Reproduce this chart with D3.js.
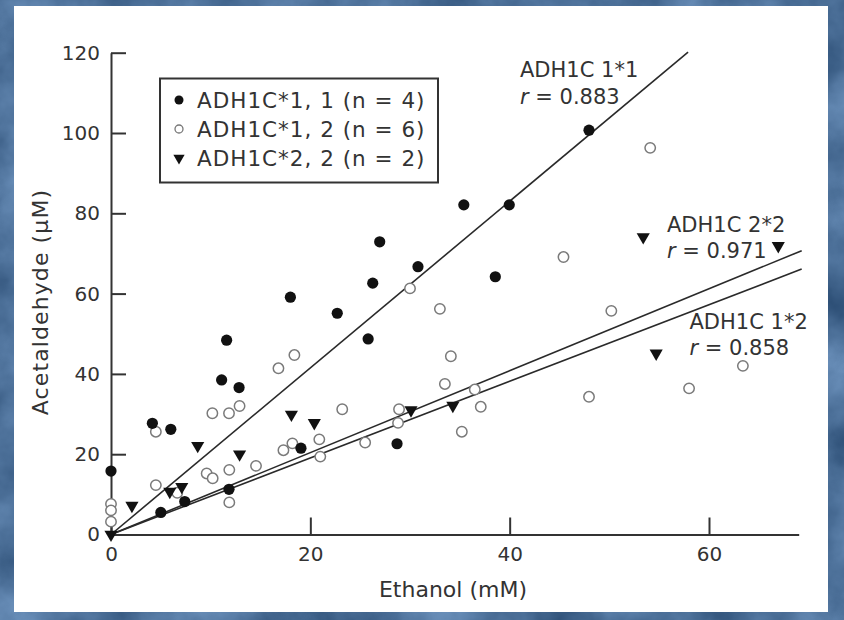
<!DOCTYPE html>
<html>
<head>
<meta charset="utf-8">
<script src="https://cdn.jsdelivr.net/npm/d3@7"></script>
<style>
  html, body { margin: 0; padding: 0; background: #5174a0; }
  svg { display: block; }
  text { font-family: "DejaVu Sans", sans-serif; fill: #333; }
</style>
</head>
<body>
<svg id="chart" width="844" height="620"></svg>
<script>
// Datos
var ticksX = [0, 20, 40, 60];
var ticksY = [0, 20, 40, 60, 80, 100, 120];

// ADH1C*1, 1 (circulos negros)
var g11x = [0, 4.15, 6.0, 11.6, 11.1, 12.85, 11.84, 7.4, 5.0, 18.0, 22.7, 26.96, 26.26, 25.8, 30.8, 19.06, 28.7, 35.4, 39.96, 38.56, 47.96];
var g11y = [15.8, 27.7, 26.2, 48.4, 38.5, 36.6, 11.25, 8.2, 5.5, 59.1, 55.1, 72.9, 62.6, 48.7, 66.7, 21.5, 22.6, 82.1, 82.1, 64.2, 100.7];

// ADH1C*1, 2 (circulos blancos)
var g12x = [0, 0, 0, 4.5, 4.5, 10.17, 11.84, 12.9, 9.6, 10.2, 11.87, 11.87, 14.55, 6.65, 16.8, 18.4, 23.2, 17.3, 18.2, 20.9, 21.0, 25.5, 28.9, 28.8, 30.0, 33.0, 34.1, 33.5, 36.5, 37.1, 35.2, 45.4, 47.96, 58.0, 54.1, 50.2, 63.4];
var g12y = [7.6, 6.0, 3.2, 25.6, 12.3, 30.2, 30.2, 32.0, 15.2, 14.0, 16.1, 8.0, 17.1, 10.4, 41.4, 44.7, 31.2, 21.0, 22.7, 23.7, 19.4, 22.9, 31.2, 27.8, 61.3, 56.2, 44.4, 37.5, 36.1, 31.8, 25.6, 69.1, 34.3, 36.4, 96.3, 55.7, 42.0];

// ADH1C*2, 2 (triangulos)
var g22x = [0, 2.1, 8.7, 5.9, 7.1, 12.9, 18.1, 20.4, 30.1, 34.3, 53.4, 66.95, 54.7];
var g22y = [0, 7.2, 22.1, 10.7, 11.9, 20.0, 29.9, 27.8, 31.0, 32.1, 74.1, 71.9, 45.1];

// Rectas de regresion (por el origen)
var fitNames = ['ADH1C 1*1', 'ADH1C 2*2', 'ADH1C 1*2'];
var fitR = ['0.883', '0.971', '0.858'];
var fitSlope = [2.075, 1.02, 0.954];
var fitXEnd = [57.9, 69.3, 69.3];

var legendLabels = ['ADH1C*1, 1 (n = 4)', 'ADH1C*1, 2 (n = 6)', 'ADH1C*2, 2 (n = 2)'];

var svg = d3.select('#chart');

// Fondo azul con textura
var defs = svg.append('defs');
var filt = defs.append('filter').attr('id', 'tex')
  .attr('x', 0).attr('y', 0).attr('width', 1).attr('height', 1)
  .attr('color-interpolation-filters', 'sRGB');
filt.append('feTurbulence').attr('type', 'fractalNoise').attr('baseFrequency', 0.012).attr('numOctaves', 5).attr('seed', 7);
filt.append('feColorMatrix').attr('type', 'matrix')
  .attr('values', '0.38 0 0 0 0.11  0.4 0 0 0 0.24  0.42 0 0 0 0.39  0 0 0 0 1');

svg.append('rect').attr('width', 844).attr('height', 620).attr('filter', 'url(#tex)');

// Panel blanco
svg.append('rect').attr('x', 14).attr('y', 6).attr('width', 814).attr('height', 606).attr('fill', '#fff');

// Escalas
var x = d3.scaleLinear().domain([0, 69]).range([111, 798.7]);
var y = d3.scaleLinear().domain([0, 120]).range([534.5, 52.7]);

// Ejes
var axY = svg.append('g')
  .attr('transform', 'translate(' + x(0) + ',0)')
  .call(d3.axisLeft(y).tickValues(ticksY).tickFormat(d3.format('d')).tickSizeInner(-15).tickSizeOuter(0).tickPadding(11));

var axX = svg.append('g')
  .attr('transform', 'translate(0,' + y(0) + ')')
  .call(d3.axisBottom(x).tickValues(ticksX).tickFormat(d3.format('d')).tickSizeInner(-17).tickSizeOuter(0).tickPadding(12));

[axY, axX].forEach(function (ax) {
  ax.select('.domain').attr('stroke', '#333').attr('stroke-width', 2);
  ax.selectAll('.tick line').attr('stroke', '#333').attr('stroke-width', 2);
  ax.selectAll('.tick text').style('font-size', '20px').style('font-family', '"DejaVu Sans", sans-serif').attr('fill', '#333');
});

// Titulos de ejes
svg.append('text')
  .attr('x', 453).attr('y', 597)
  .attr('text-anchor', 'middle')
  .style('font-size', '22px')
  .text('Ethanol (mM)');

svg.append('text')
  .attr('transform', 'translate(48,302) rotate(-90)')
  .attr('text-anchor', 'middle')
  .style('font-size', '22px')
  .style('letter-spacing', '1.1px')
  .text('Acetaldehyde (\u00b5M)');

// Rectas
var fits = fitSlope.map(function (s, i) { return { slope: s, xEnd: fitXEnd[i] }; });
svg.append('g').selectAll('line')
  .data(fits)
  .enter()
  .append('line')
  .attr('x1', x(0)).attr('y1', y(0))
  .attr('x2', function (d) { return x(d.xEnd); })
  .attr('y2', function (d) { return y(d.slope * d.xEnd); })
  .attr('stroke', '#2a2a2a')
  .attr('stroke-width', 1.6);

// Puntos
var tri = d3.symbol().type(d3.symbolTriangle).size(75);

var pts12 = g12x.map(function (v, i) { return [v, g12y[i]]; });
svg.append('g').selectAll('circle')
  .data(pts12)
  .enter()
  .append('circle')
  .attr('cx', function (d) { return x(d[0]); })
  .attr('cy', function (d) { return y(d[1]); })
  .attr('r', 5.2)
  .attr('fill', '#fff')
  .attr('stroke', '#7a7a7a')
  .attr('stroke-width', 1.5);

var pts11 = g11x.map(function (v, i) { return [v, g11y[i]]; });
svg.append('g').selectAll('circle')
  .data(pts11)
  .enter()
  .append('circle')
  .attr('cx', function (d) { return x(d[0]); })
  .attr('cy', function (d) { return y(d[1]); })
  .attr('r', 5.6)
  .attr('fill', '#111');

var pts22 = g22x.map(function (v, i) { return [v, g22y[i]]; });
svg.append('g').selectAll('path')
  .data(pts22)
  .enter()
  .append('path')
  .attr('d', tri)
  .attr('transform', function (d) { return 'translate(' + x(d[0]) + ',' + y(d[1]) + ') rotate(180)'; })
  .attr('fill', '#111');

// Anotaciones de r
var annX = [520, 667, 689.5];
var annY = [77, 231.5, 328.5];
fitNames.forEach(function (n, i) {
  var t = svg.append('g').attr('transform', 'translate(' + annX[i] + ',' + annY[i] + ')');
  t.append('text').style('font-size', '21px').text(n);
  var r = t.append('text').attr('y', 26.5).style('font-size', '21px');
  r.append('tspan').style('font-style', 'italic').text('r');
  r.append('tspan').text(' = ' + fitR[i]);
});

// Leyenda
var lg = svg.append('g');
lg.append('rect')
  .attr('x', 160).attr('y', 78.5).attr('width', 278).attr('height', 104)
  .attr('fill', '#fff').attr('stroke', '#333').attr('stroke-width', 2);

var rows = lg.selectAll('.legend')
  .data(legendLabels)
  .enter()
  .append('g')
  .attr('class', 'legend')
  .attr('transform', function (d, i) { return 'translate(179,' + (100 + i * 29) + ')'; });

rows.append('text')
  .attr('x', 18).attr('y', 7.6)
  .style('font-size', '21.5px')
  .style('letter-spacing', '1px')
  .text(function (d) { return d; });

rows.filter(function (d, i) { return i === 0; }).append('circle').attr('r', 4.5).attr('fill', '#111');
rows.filter(function (d, i) { return i === 1; }).append('circle').attr('r', 4).attr('fill', '#fff').attr('stroke', '#777').attr('stroke-width', 1.3);
rows.filter(function (d, i) { return i === 2; }).append('path')
  .attr('d', d3.symbol().type(d3.symbolTriangle).size(55))
  .attr('transform', 'rotate(180)')
  .attr('fill', '#111');
</script>
</body>
</html>
